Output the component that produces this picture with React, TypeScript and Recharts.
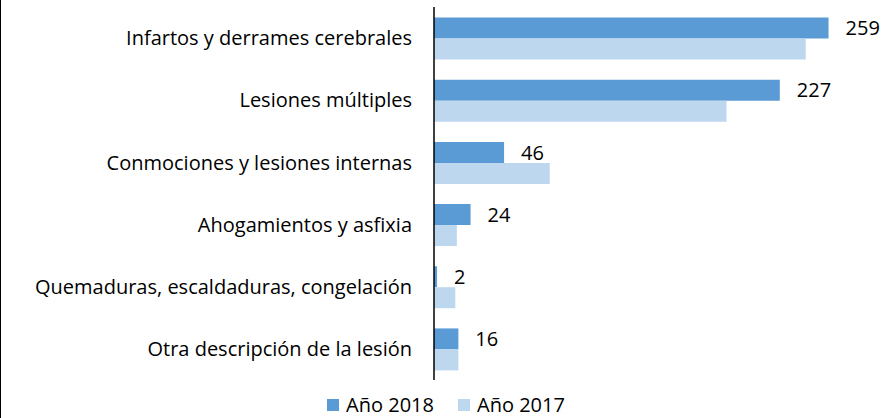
import React from "react";
import {
  BarChart,
  Bar,
  XAxis,
  YAxis,
  Legend,
  LabelList,
} from "recharts";

const categorias = [
  "Infartos y derrames cerebrales",
  "Lesiones múltiples",
  "Conmociones y lesiones internas",
  "Ahogamientos y asfixia",
  "Quemaduras, escaldaduras, congelación",
  "Otra descripción de la lesión",
];
const anio2018 = [259, 227, 46, 24, 2, 16];
const anio2017 = [244, 192, 76, 15, 14, 16];

const series = [
  { key: "a2018", nombre: "Año 2018", color: "#5B9BD5" },
  { key: "a2017", nombre: "Año 2017", color: "#BDD7EE" },
];

const data = categorias.map((c, i) => ({
  categoria: c,
  a2018: anio2018[i],
  a2017: anio2017[i],
}));

const FONT = "'Open Sans', sans-serif";

// legend drawn by hand so it keeps the Excel order
const LeyendaCustom = () => (
  <div
    style={{
      height: 38,
      boxSizing: "border-box",
      paddingBottom: 1,
      display: "flex",
      justifyContent: "center",
      alignItems: "flex-end",
      gap: 24,
      fontFamily: FONT,
      fontSize: 20,
      lineHeight: "24px",
      color: "#000",
    }}
  >
    {series.map((s) => (
      <span key={s.key} style={{ display: "flex", alignItems: "center" }}>
        <span
          style={{
            width: 12,
            height: 12,
            background: s.color,
            display: "inline-block",
            marginRight: 7,
          }}
        />
        {s.nombre}
      </span>
    ))}
  </div>
);

export default function App() {
  return (
    <div
      style={{
        position: "absolute",
        left: 0,
        top: 0,
        width: 894,
        height: 418,
        background: "#fff",
        borderLeft: "1.5px solid #000",
        boxSizing: "border-box",
      }}
    >
      <BarChart
        width={892}
        height={418}
        data={data}
        layout="vertical"
        margin={{ top: 7, right: 2, left: 0, bottom: 0 }}
        barCategoryGap="17%"
        barGap={0}
      >
        <XAxis type="number" domain={[0, 300]} hide />
        <YAxis
          type="category"
          dataKey="categoria"
          width={433}
          axisLine={{ stroke: "#000", strokeWidth: 1.5 }}
          tickLine={false}
          tickSize={0}
          tickMargin={22}
          tick={{ fill: "#000", fontSize: 20, fontFamily: FONT }}
        />
        <Legend verticalAlign="bottom" height={38} content={<LeyendaCustom />} />
        {series.map((s) => (
          <Bar
            key={s.key}
            dataKey={s.key}
            name={s.nombre}
            fill={s.color}
            isAnimationActive={false}
          >
            {s.key === "a2018" && (
              <LabelList
                dataKey={s.key}
                position="right"
                offset={17}
                fill="#000"
                fontSize={20}
                fontFamily={FONT}
              />
            )}
          </Bar>
        ))}
      </BarChart>
    </div>
  );
}
